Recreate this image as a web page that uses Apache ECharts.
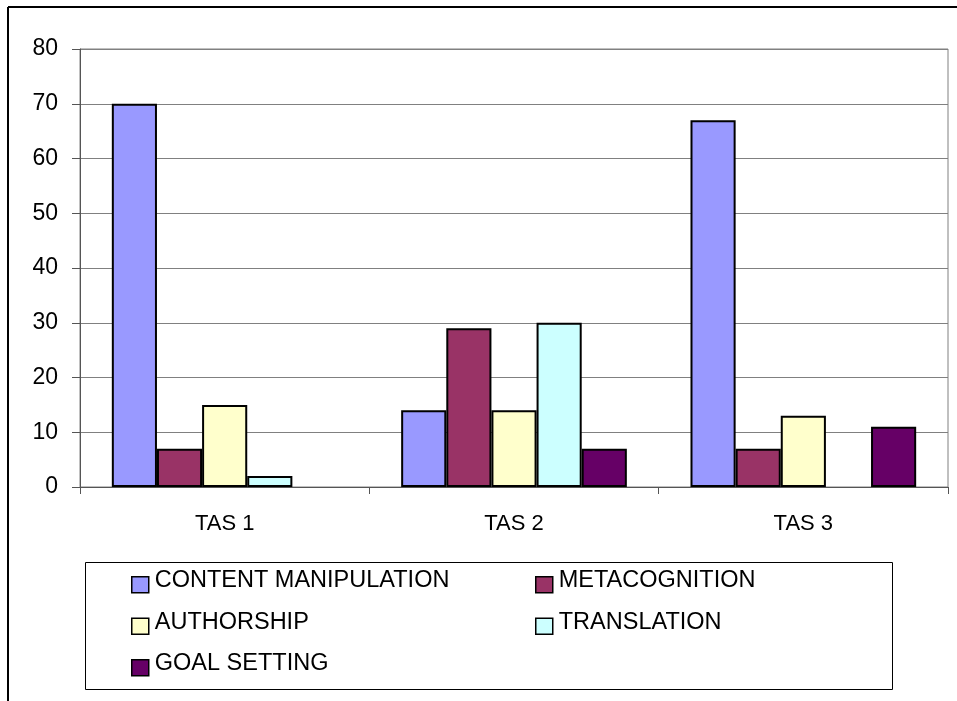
<!DOCTYPE html>
<html>
<head>
<meta charset="utf-8">
<script src="https://cdn.jsdelivr.net/npm/echarts@6/dist/echarts.min.js"></script>
<style>
  html, body { margin: 0; padding: 0; background: #fff; }
  #chart { width: 957px; height: 701px; }
</style>
</head>
<body>
<div id="chart"></div>
<script>
// Categories and per-series values
const categories = ['TAS 1', 'TAS 2', 'TAS 3'];
const seriesNames = ['CONTENT MANIPULATION', 'METACOGNITION', 'AUTHORSHIP', 'TRANSLATION', 'GOAL SETTING'];
const contentManipulation = [70, 14, 67];
const metacognition = [7, 29, 7];
const authorship = [15, 14, 13];
const translation = [2, 30, 0];
const goalSetting = [0, 7, 11];
const yTicks = [0, 10, 20, 30, 40, 50, 60, 70, 80];

const values = [contentManipulation, metacognition, authorship, translation, goalSetting];
const colors = ['#9999FF', '#993366', '#FFFFCC', '#CCFFFF', '#660066'];
const FONT = '"Liberation Sans", Arial, sans-serif';

const chart = echarts.init(document.getElementById('chart'), null, { renderer: 'canvas' });

// zero-height bars get no outline so they leave no stray line on the baseline
const series = seriesNames.map((name, i) => ({
  name: name,
  type: 'bar',
  data: values[i].map(v => v === 0 ? { value: v, itemStyle: { borderWidth: 0 } } : v),
  barGap: '0%',
  barCategoryGap: '22%',
  itemStyle: { color: colors[i], borderColor: '#000', borderWidth: 2 },
  emphasis: { disabled: true },
  animation: false
}));

// swatch drawn in the lower part of a taller box, so it sits a little below the text middle
const legendCommon = {
  orient: 'vertical',
  padding: 0,
  itemWidth: 17,
  itemHeight: 24,
  itemGap: 16,
  icon: 'path://M0,0M0,8L17,8L17,24L0,24Z',
  selectedMode: false,
  textStyle: { fontFamily: FONT, fontSize: 23.5, color: '#000', padding: [0, 0, 0, 1] },
  itemStyle: { borderColor: '#000', borderWidth: 1.5 }
};

chart.setOption({
  animation: false,
  backgroundColor: '#fff',
  grid: {
    left: 80, top: 49, right: 9, bottom: 214,
    show: true, borderColor: '#808080', borderWidth: 1
  },
  xAxis: {
    type: 'category',
    data: categories,
    axisLine: { lineStyle: { color: '#555', width: 1 } },
    axisTick: { show: true, length: 7, lineStyle: { color: '#555' } },
    axisLabel: { fontFamily: FONT, fontSize: 22, color: '#000', margin: 26 }
  },
  yAxis: {
    type: 'value',
    min: yTicks[0],
    max: yTicks[yTicks.length - 1],
    interval: 10,
    axisLine: { show: true, lineStyle: { color: '#555', width: 1 } },
    axisTick: { show: true, length: 8, lineStyle: { color: '#555' } },
    axisLabel: { fontFamily: FONT, fontSize: 23, color: '#000', margin: 22 },
    splitLine: { lineStyle: { color: '#808080', width: 1 } }
  },
  legend: [
    Object.assign({}, legendCommon, {
      left: 131, top: 568,
      data: [seriesNames[0], seriesNames[2], seriesNames[4]]
    }),
    Object.assign({}, legendCommon, {
      left: 535, top: 568,
      data: [seriesNames[1], seriesNames[3]]
    })
  ],
  graphic: [
    // outer frame (top and left edges)
    { type: 'line', shape: { x1: 8, y1: 7, x2: 957, y2: 7 }, style: { stroke: '#000', lineWidth: 2 } },
    { type: 'line', shape: { x1: 8, y1: 7, x2: 8, y2: 701 }, style: { stroke: '#000', lineWidth: 2 } },
    // legend box
    { type: 'rect', shape: { x: 85.5, y: 562.5, width: 807, height: 127 }, style: { fill: 'none', stroke: '#000', lineWidth: 1 } }
  ],
  series: series
});
</script>
</body>
</html>
